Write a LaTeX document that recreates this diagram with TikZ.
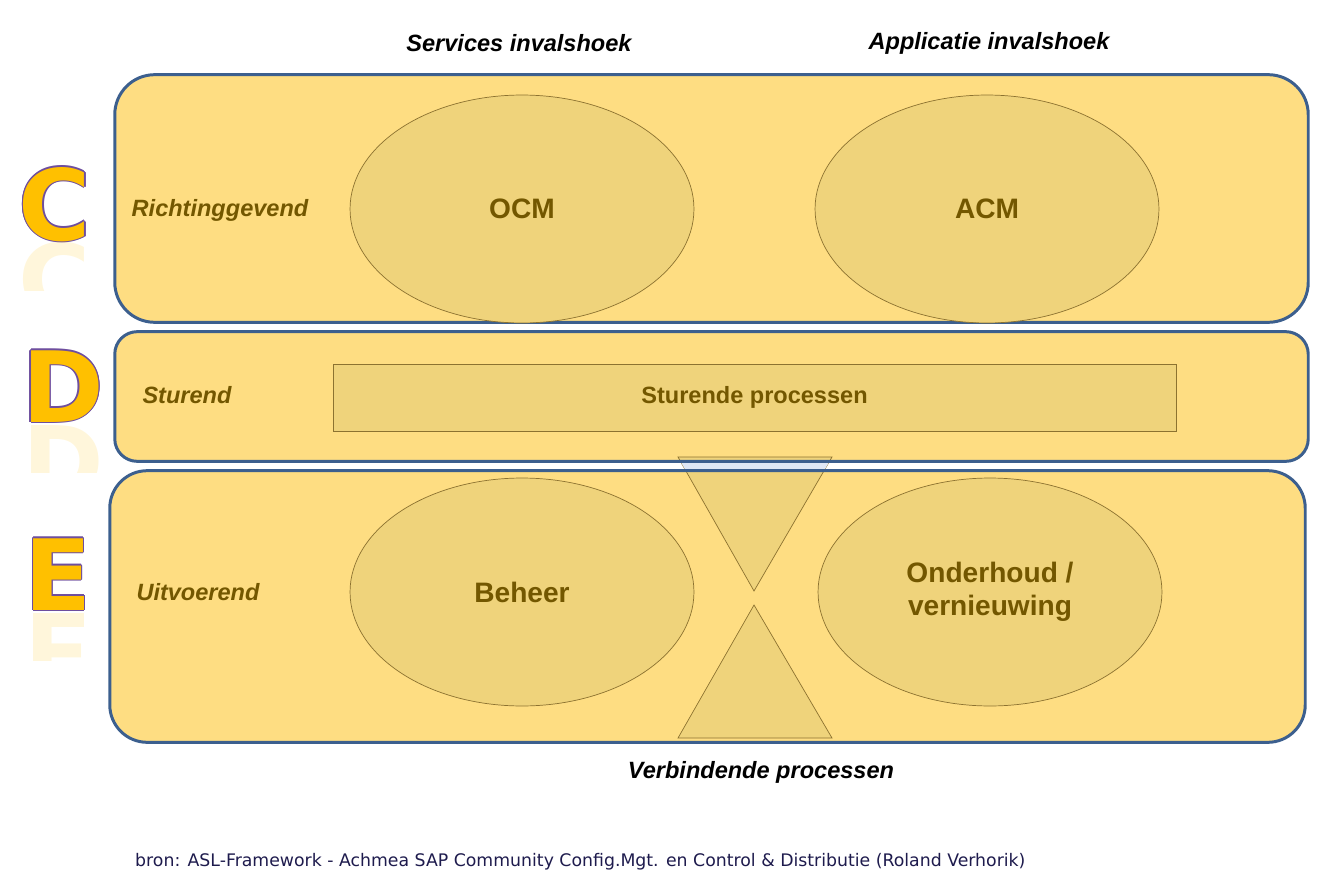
\documentclass[tikz,border=0pt]{standalone}
\usepackage{fontspec}
\setmainfont{Liberation Sans}
\newfontfamily\srcfont{DejaVu Sans}
\newfontfamily\bigfont{DejaVu Sans}
\usetikzlibrary{shapes.geometric}

\definecolor{band}{HTML}{FEDD82}
\definecolor{bandline}{HTML}{3C5F8E}
\definecolor{blob}{HTML}{EFD37B}
\definecolor{blobline}{HTML}{8C7230}
\definecolor{ink}{HTML}{735700}
\definecolor{letter}{HTML}{FFC000}
\definecolor{rim}{HTML}{6E4E9E}
\definecolor{src}{HTML}{1E1B4D}
\definecolor{gap}{HTML}{DFE7F5}

\tikzset{
  band/.style={fill=band, rounded corners=#1, inner sep=0pt},
  bandedge/.style={draw=bandline, line width=1.7pt, rounded corners=#1},
  blob/.style={ellipse, fill=blob, draw=blobline, line width=0.4pt,
    minimum width=6.88cm, minimum height=4.56cm,
    font=\fontsize{16}{18.7}\selectfont\bfseries, text=ink, align=center},
  wedge/.style={fill=blob, draw=blobline, line width=0.4pt},
  level/.style={font=\fontsize{13.4}{15}\selectfont\bfseries\itshape, text=ink},
  angle/.style={font=\fontsize{13.4}{15}\selectfont\bfseries\itshape},
  lettr/.style={font=\fontsize{56}{60}\selectfont\bigfont\bfseries, text=letter, inner sep=0pt, anchor=base},
}

\begin{document}
\begin{tikzpicture}[x=0.02cm, y=-0.02cm]
\useasboundingbox (0,0) rectangle (1325,892);

% the three bands
\node[band=0.8cm, minimum width=23.86cm, minimum height=4.94cm] (bandC) at (711.5,198.5) {};
\node[band=0.45cm, minimum width=23.86cm, minimum height=2.58cm] (bandD) at (711.5,396.5) {};
\node[band=0.75cm, minimum width=23.9cm, minimum height=5.42cm] (bandE) at (707.5,606.5) {};

% hourglass
\coordinate (tl) at (678,457);
\coordinate (tr) at (832,457);
\coordinate (tip) at (754,591);
\coordinate (top) at (754,605);
\coordinate (bl) at (678,738);
\coordinate (br) at (832,738);
\draw[wedge] (tl) -- (tr) -- (tip) -- cycle;
\draw[wedge] (top) -- (br) -- (bl) -- cycle;
\begin{scope}
\clip (tl) -- (tr) -- (tip) -- cycle;
\fill[gap] (600,461) rectangle (900,471);
\end{scope}

\draw[bandedge=0.8cm] (bandC.south west) rectangle (bandC.north east);
\draw[bandedge=0.45cm] (bandD.south west) rectangle (bandD.north east);
\draw[bandedge=0.75cm] (bandE.south west) rectangle (bandE.north east);

% processes
\node[blob] (ocm) at (522,209) {OCM};
\node[blob] (acm) at (987,209) {ACM};
\node[blob] (beheer) at (522,592) {Beheer};
\node[blob] (onderhoud) at (990,592) {Onderhoud /\\vernieuwing};
\node[wedge, minimum width=16.86cm, minimum height=1.34cm,
  font=\fontsize{13.4}{15}\selectfont\bfseries, text=ink] (sturing) at (754.5,397.5) {Sturende processen};

% levels
\node[level] (richting) at (220,210) {Richtinggevend};
\node[level] (sturend) at (187,395) {Sturend};
\node[level] (uitvoer) at (198,592) {Uitvoerend};

% headings
\node[angle] (services) at (519,43) {Services invalshoek};
\node[angle] (applicatie) at (989,43) {Applicatie invalshoek};
\node[angle] (verbind) at (761,772) {Verbindende processen};

% letters: rim, face and reflection
\foreach \l/\x/\y in {C/55/240, D/63/422, E/58/610}{
  \foreach \dx/\dy in {-1.2/0, 1.2/0, 0/-1.2, 0/1.2, -.9/-.9, .9/.9, -.9/.9, .9/-.9}
    \node[lettr, text=rim] at (\x+\dx,\y+\dy) {\l};
  \node[lettr] (l\l) at (\x,\y) {\l};
  \begin{scope}
  \clip (0,\y+2) rectangle (120,\y+50);
  \node[lettr, opacity=0.14] at (\x,\y+3) {\scalebox{1}[-1]{\l}};
  \end{scope}
}

% source
\node[anchor=west, font=\fontsize{9.85}{11}\selectfont\srcfont, text=src] (bron) at (129,862)
  {bron: ASL-Framework - Achmea SAP Community Config.Mgt. en Control \& Distributie (Roland Verhorik)};
\end{tikzpicture}
\end{document}
